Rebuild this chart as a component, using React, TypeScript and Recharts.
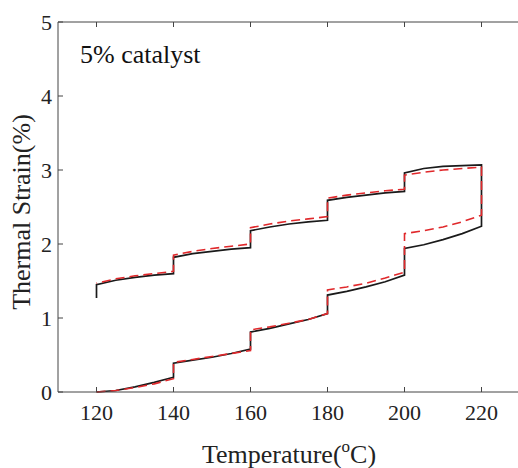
import React from 'react'
import { LineChart, Line, XAxis, YAxis, Label } from 'recharts'

// temperature path: heating staircase 120 -> 220, then back down 220 -> 120
const pathTemp = [
  120, 125, 130, 135, 140,
  140, 145, 150, 155, 160,
  160, 165, 170, 175, 180,
  180, 185, 190, 195, 200,
  200, 205, 210, 215, 220,
  220, 215, 210, 205, 200,
  200, 195, 190, 185, 180,
  180, 175, 170, 165, 160,
  160, 155, 150, 145, 140,
  140, 135, 130, 125, 120,
  120,
]

// experiment (solid black)
const measuredStrain = [
  0.0, 0.02, 0.07, 0.13, 0.2,
  0.39, 0.43, 0.47, 0.52, 0.58,
  0.81, 0.86, 0.92, 0.98, 1.06,
  1.31, 1.36, 1.42, 1.49, 1.58,
  1.94, 1.99, 2.06, 2.14, 2.24,
  3.07, 3.06, 3.05, 3.02, 2.96,
  2.71, 2.69, 2.66, 2.63, 2.59,
  2.32, 2.3, 2.27, 2.23, 2.18,
  1.95, 1.93, 1.9, 1.87, 1.82,
  1.6, 1.58, 1.55, 1.51, 1.45,
  1.27,
]

// model (red dashed)
const modelStrain = [
  0.0, 0.02, 0.06, 0.11, 0.18,
  0.4, 0.44, 0.48, 0.52, 0.56,
  0.84, 0.88, 0.93, 0.98, 1.06,
  1.38, 1.42, 1.47, 1.54, 1.62,
  2.14, 2.18, 2.23, 2.3, 2.39,
  3.04, 3.02, 3.0, 2.97, 2.93,
  2.74, 2.72, 2.69, 2.66, 2.62,
  2.37, 2.34, 2.31, 2.27, 2.22,
  2.0, 1.97, 1.94, 1.9, 1.85,
  1.63, 1.6, 1.57, 1.53, 1.47,
]

const xTicks = [120, 140, 160, 180, 200, 220]
const yTicks = [0, 1, 2, 3, 4, 5]

const measured = measuredStrain.map((s, i) => ({ t: pathTemp[i], strain: s }))
const model = modelStrain.map((s, i) => ({ t: pathTemp[i], strain: s }))

const FONT = "'Liberation Serif', 'Times New Roman', serif"
const AXIS = '#444'
const TICK_LEN = 5

// MATLAB-style inward ticks on all four sides
const BottomTick = ({ x, y, payload }: any) => (
  <g>
    <line x1={x} y1={y} x2={x} y2={y - TICK_LEN} stroke={AXIS} />
    <text x={x} y={y + 28} textAnchor="middle" fontSize={22} fontFamily={FONT} fill="#222">
      {payload.value}
    </text>
  </g>
)
const TopTick = ({ x, y }: any) => <line x1={x} y1={y} x2={x} y2={y + TICK_LEN} stroke={AXIS} />
const LeftTick = ({ x, y, payload }: any) => (
  <g>
    <line x1={x} y1={y} x2={x + TICK_LEN} y2={y} stroke={AXIS} />
    <text x={x - 6} y={y} dy="0.35em" textAnchor="end" fontSize={22} fontFamily={FONT} fill="#222">
      {payload.value}
    </text>
  </g>
)
const RightTick = ({ x, y }: any) => <line x1={x} y1={y} x2={x - TICK_LEN} y2={y} stroke={AXIS} />

export default function App() {
  return (
    <div style={{ position: 'absolute', left: 0, top: 0, width: 518, height: 468, overflow: 'hidden', background: '#fff' }}>
      <LineChart width={522} height={468} margin={{ top: 21, right: 1, bottom: 0, left: 0 }}>
        <XAxis
          dataKey="t"
          type="number"
          domain={[110, 230]}
          ticks={xTicks}
          allowDataOverflow
          height={76}
          tickSize={0}
          tickMargin={0}
          tickLine={false}
          tick={<BottomTick />}
          axisLine={{ stroke: AXIS }}
        >
          <Label
            content={() => (
              <text x={289} y={463} textAnchor="middle" fontSize={26} fontFamily={FONT} fill="#222">
                Temperature(
                <tspan fontSize={17} dy={-11}>o</tspan>
                <tspan dy={11}>C)</tspan>
              </text>
            )}
          />
        </XAxis>
        <XAxis
          xAxisId="top"
          orientation="top"
          dataKey="t"
          type="number"
          domain={[110, 230]}
          ticks={xTicks}
          allowDataOverflow
          height={1}
          tickSize={0}
          tickMargin={0}
          tickLine={false}
          tick={<TopTick />}
          axisLine={{ stroke: AXIS }}
        >
          <Label
            content={() => (
              <text x={80} y={63} fontSize={26} fontFamily={FONT} fill="#111">
                5% catalyst
              </text>
            )}
          />
        </XAxis>
        <YAxis
          type="number"
          domain={[0, 5]}
          ticks={yTicks}
          width={58}
          tickSize={0}
          tickMargin={0}
          tickLine={false}
          tick={<LeftTick />}
          axisLine={{ stroke: AXIS }}
        >
          <Label
            content={() => (
              <text
                transform="translate(30,212) rotate(-90)"
                textAnchor="middle"
                fontSize={26}
                fontFamily={FONT}
                fill="#222"
              >
                Thermal Strain(%)
              </text>
            )}
          />
        </YAxis>
        <YAxis
          yAxisId="right"
          orientation="right"
          type="number"
          domain={[0, 5]}
          ticks={yTicks}
          width={1}
          tickSize={0}
          tickMargin={0}
          tickLine={false}
          tick={<RightTick />}
          axisLine={{ stroke: AXIS }}
        />
        <Line
          data={measured}
          dataKey="strain"
          type="linear"
          stroke="#1a1a1a"
          strokeWidth={1.7}
          dot={false}
          activeDot={false}
          isAnimationActive={false}
        />
        <Line
          data={model}
          dataKey="strain"
          type="linear"
          stroke="#e0282b"
          strokeWidth={1.6}
          strokeDasharray="9 5"
          dot={false}
          activeDot={false}
          isAnimationActive={false}
        />
      </LineChart>
    </div>
  )
}
